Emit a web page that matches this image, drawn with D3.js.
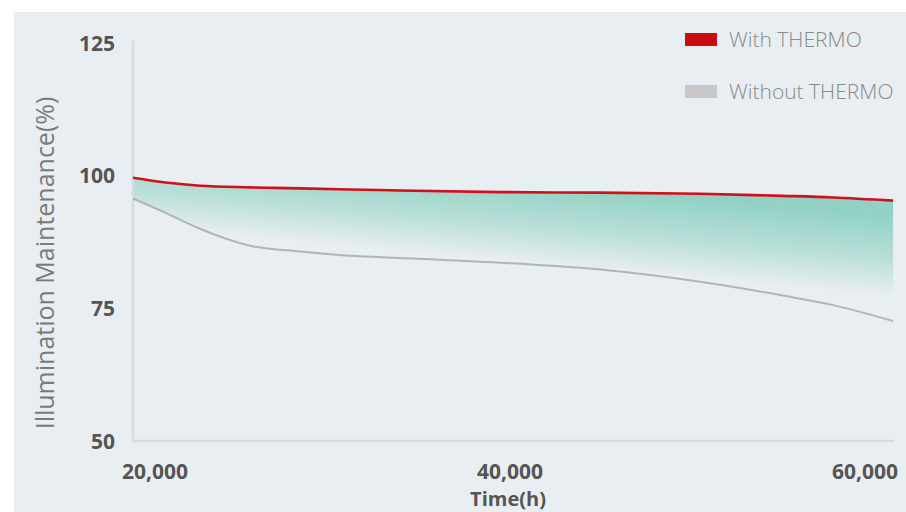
<!DOCTYPE html>
<html>
<head>
<meta charset="utf-8">
<script src="https://cdn.jsdelivr.net/npm/d3@7"></script>
<style>
  html, body { margin: 0; padding: 0; background: #ffffff; }
  svg { display: block; }
</style>
</head>
<body>
<svg id="chart" width="906" height="512"></svg>
<script>
// ---- data ----
const hours      = [18760, 20600, 22535, 25350, 28170, 30990, 33800, 39440, 45070, 50700, 55380, 58200, 61580];
const withThermo = [99.6, 98.7, 98.1, 97.8, 97.6, 97.4, 97.2, 96.9, 96.8, 96.6, 96.2, 95.9, 95.3];
const without    = [95.7, 93.0, 90.0, 86.8, 85.7, 84.9, 84.5, 83.6, 82.3, 80.0, 77.4, 75.6, 72.6];
const xTicks     = [20000, 40000, 60000];
const yTicks     = [50, 75, 100, 125];
const legendLabels = ["With THERMO", "Without THERMO"];
const xTitle = "Time(h)";
const yTitle = "Illumination Maintenance(%)";

const svg = d3.select("#chart");
const W = 906, H = 512;

// background panel
svg.append("rect").attr("x", 14).attr("y", 12).attr("width", W - 14).attr("height", H - 12).attr("fill", "#e9eef2");

const x = d3.scaleLinear().domain([20000, 60000]).range([155, 865]);
const y = d3.scaleLinear().domain([50, 125]).range([441, 43]);

const rows = hours.map((h, i) => ({ h, a: withThermo[i], b: without[i] }));

// gradient
const defs = svg.append("defs");
const grad = defs.append("linearGradient").attr("id", "fillGrad")
  .attr("gradientUnits", "userSpaceOnUse")
  .attr("x1", 600).attr("y1", 190).attr("x2", 590).attr("y2", 300);
grad.append("stop").attr("offset", 0).attr("stop-color", "#92d2c4").attr("stop-opacity", 1);
grad.append("stop").attr("offset", 0.38).attr("stop-color", "#92d2c4").attr("stop-opacity", 0.55);
grad.append("stop").attr("offset", 0.72).attr("stop-color", "#92d2c4").attr("stop-opacity", 0);

const curve = d3.curveMonotoneX;
svg.append("path").datum(rows)
  .attr("d", d3.area().x(d => x(d.h)).y0(d => y(d.b)).y1(d => y(d.a)).curve(curve))
  .attr("fill", "url(#fillGrad)");

// axes lines
svg.append("line").attr("x1", 133).attr("x2", 133).attr("y1", y(125.5)).attr("y2", y(50))
  .attr("stroke", "#d8dbde").attr("stroke-width", 2.5);
svg.append("line").attr("x1", 133).attr("x2", 894).attr("y1", y(50)).attr("y2", y(50))
  .attr("stroke", "#d8dbde").attr("stroke-width", 2.5);

// lines
svg.append("path").datum(rows)
  .attr("d", d3.line().x(d => x(d.h)).y(d => y(d.b)).curve(curve))
  .attr("fill", "none").attr("stroke", "#b4b4b6").attr("stroke-width", 2);
svg.append("path").datum(rows)
  .attr("d", d3.line().x(d => x(d.h)).y(d => y(d.a)).curve(curve))
  .attr("fill", "none").attr("stroke", "#d0101a").attr("stroke-width", 2.6);

// y tick labels
svg.append("g").selectAll("text").data(yTicks).join("text")
  .attr("x", 115).attr("y", d => y(d) + 7.5)
  .attr("text-anchor", "end")
  .attr("font-family", "Open Sans, sans-serif").attr("font-weight", 700).attr("font-size", 21)
  .attr("fill", "#555")
  .text(d => d);

// x tick labels
const fmt = d3.format(",");
svg.append("g").selectAll("text").data(xTicks).join("text")
  .attr("x", d => x(d)).attr("y", 479)
  .attr("text-anchor", "middle")
  .attr("font-family", "Open Sans, sans-serif").attr("font-weight", 700).attr("font-size", 21)
  .attr("fill", "#555")
  .text(d => fmt(d));

// x title
svg.append("text").attr("x", x(40000) - 2).attr("y", 506).attr("text-anchor", "middle")
  .attr("font-family", "Open Sans, sans-serif").attr("font-weight", 700).attr("font-size", 20)
  .attr("fill", "#555").text(xTitle);

// y title
svg.append("text").attr("transform", "translate(54,263) rotate(-90)").attr("text-anchor", "middle")
  .attr("font-family", "Open Sans, sans-serif").attr("font-weight", 400).attr("font-size", 25)
  .attr("fill", "#7a7a7a").text(yTitle);

// legend
const legColors = ["#cc0a12", "#c8c8c8"];
const leg = svg.append("g").selectAll("g").data(legendLabels).join("g")
  .attr("transform", (d, i) => `translate(685,${33 + i * 52})`);
leg.append("rect").attr("width", 32).attr("height", 13).attr("fill", (d, i) => legColors[i]);
leg.append("text").attr("x", 44).attr("y", 14)
  .attr("font-family", "Open Sans, sans-serif").attr("font-weight", 300).attr("font-size", 21)
  .attr("fill", "#8a8a8a").text(d => d);
</script>
</body>
</html>
